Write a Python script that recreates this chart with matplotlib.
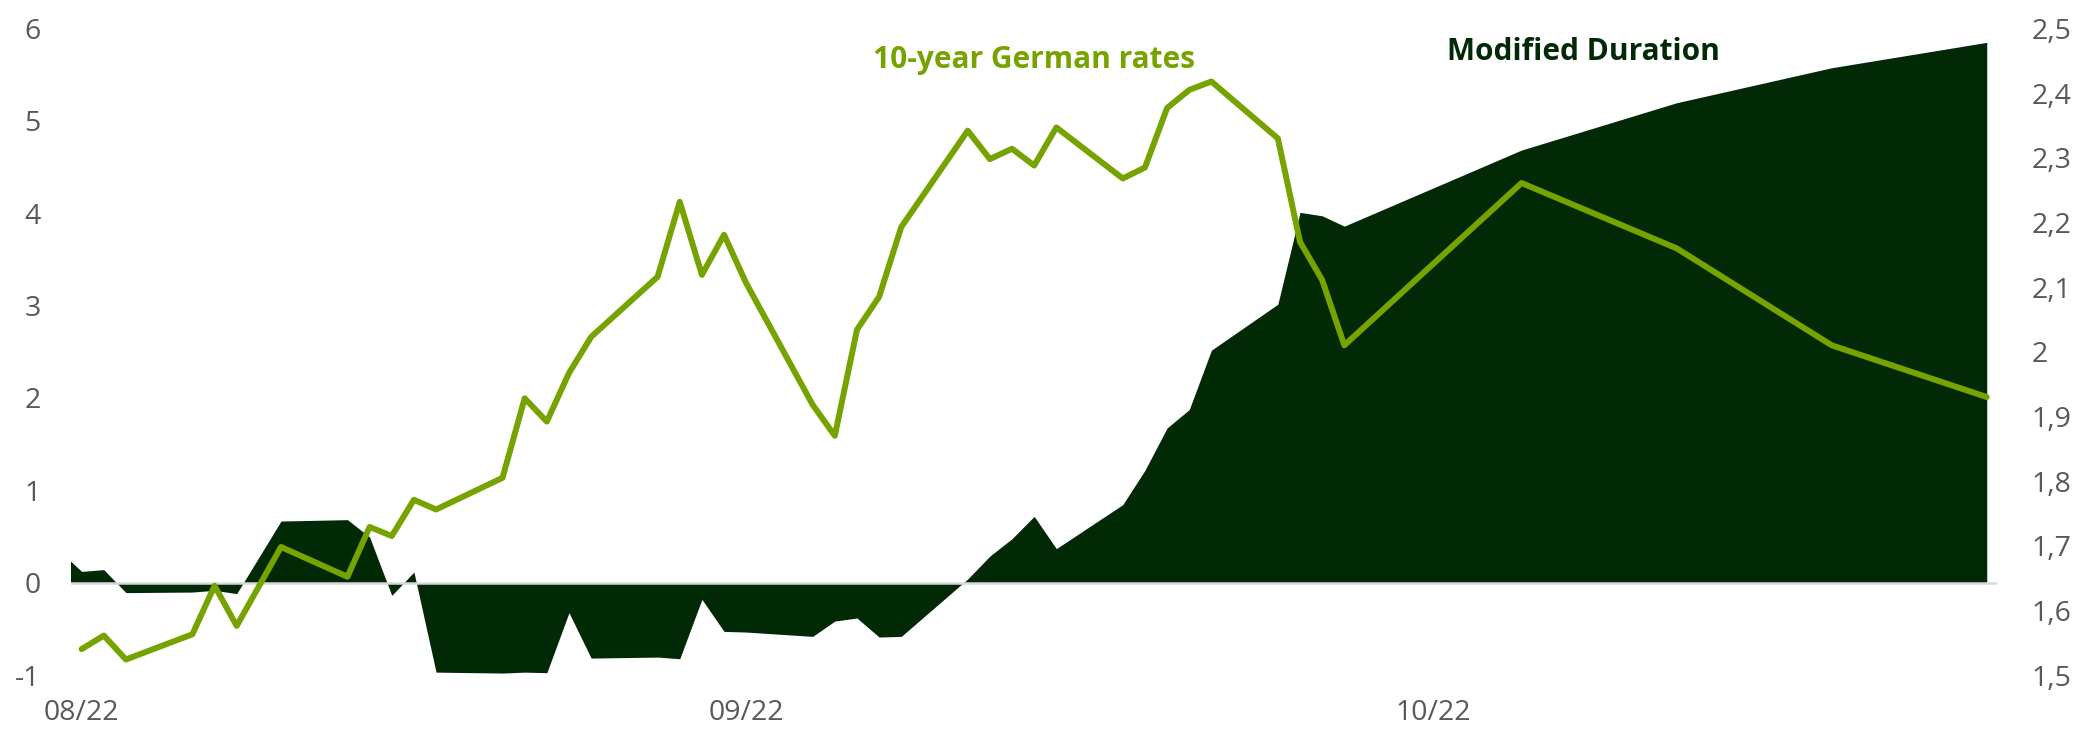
import matplotlib
matplotlib.use("Agg")
import matplotlib.pyplot as plt

plt.rcParams['font.family'] = ['Open Sans', 'DejaVu Sans']

# ---- data (x = calendar-day offset from first observation) ----
duration_days = [-1, 0, 1, 2, 5, 6, 7, 9, 12, 13, 14, 15, 16, 19, 20, 21, 22, 23, 26, 27,
                 28, 29, 30, 33, 34, 35, 36, 37, 40, 41, 42, 43, 44, 47, 48, 49, 50, 51,
                 54, 55, 56, 57, 65, 72, 79, 86]
modified_duration = [0.345, 0.122, 0.141, -0.108, -0.102, -0.083, -0.119, 0.667, 0.682, 0.494,
                     -0.138, 0.115, -0.969, -0.979, -0.969, -0.975, -0.325, -0.817, -0.806, -0.824,
                     -0.181, -0.528, -0.535, -0.582, -0.416, -0.383, -0.589, -0.582, 0.04, 0.288,
                     0.476, 0.718, 0.368, 0.845, 1.217, 1.675, 1.874, 2.517,
                     3.015, 4.009, 3.972, 3.860, 4.684, 5.196, 5.575, 5.850]

rate_days = [0, 1, 2, 5, 6, 7, 9, 12, 13, 14, 15, 16, 19, 20, 21, 22, 23, 26, 27,
             28, 29, 30, 33, 34, 35, 36, 37, 40, 41, 42, 43, 44, 47, 48, 49, 50, 51,
             54, 55, 56, 57, 65, 72, 79, 86]
german_10y = [1.540, 1.561, 1.524, 1.563, 1.638, 1.576, 1.698, 1.652, 1.729, 1.715, 1.771, 1.756,
              1.805, 1.928, 1.892, 1.967, 2.023, 2.116, 2.232, 2.119, 2.181, 2.106, 1.918, 1.870,
              2.034, 2.085, 2.193, 2.342, 2.298, 2.314, 2.288, 2.347, 2.268, 2.285, 2.377, 2.405,
              2.418, 2.330, 2.170, 2.111, 2.010, 2.261, 2.160, 2.010, 1.930]

xtick_days = [0, 30, 61]
xtick_labels = ["08/22", "09/22", "10/22"]
left_ticks = [-1, 0, 1, 2, 3, 4, 5, 6]
right_ticks = [1.5, 1.6, 1.7, 1.8, 1.9, 2.0, 2.1, 2.2, 2.3, 2.4, 2.5]
right_labels = ["1,5", "1,6", "1,7", "1,8", "1,9", "2", "2,1", "2,2", "2,3", "2,4", "2,5"]

DARK = "#022906"
GREEN = "#76A300"
TICK = "#595959"

W, H = 2082, 731
fig = plt.figure(figsize=(W / 100, H / 100), dpi=100)
ax = fig.add_axes([71 / W, 1 - 675 / H, (1996.7 - 71) / W, (675 - 28.5) / H])
ax2 = ax.twinx()

ax.fill_between(duration_days, 0, modified_duration, color=DARK, lw=0, zorder=2)
ax.axhline(0, color="#d9d9d9", lw=1.8, zorder=3)
ax.set_xlim(-0.48, 86.45)
ax.set_ylim(-1, 6)
ax.set_yticks(left_ticks)
ax.set_yticklabels([str(t) for t in left_ticks])
ax.set_xticks(xtick_days)
ax.set_xticklabels(xtick_labels)

ax2.plot(rate_days, german_10y, color=GREEN, lw=4.3, solid_joinstyle='round',
         solid_capstyle='round', zorder=5)
ax2.set_ylim(1.5, 2.5)
ax2.set_yticks(right_ticks)
ax2.set_yticklabels(right_labels)

for a in (ax, ax2):
    for s in a.spines.values():
        s.set_visible(False)
    a.tick_params(length=0, labelsize=20.5, labelcolor=TICK)
ax.tick_params(axis='y', pad=22)
ax.tick_params(axis='x', pad=17)
ax2.tick_params(axis='y', pad=25)

ax.set_zorder(ax2.get_zorder() - 1)
ax2.patch.set_visible(False)

ax.text(43.0, 5.569, "10-year German rates", color=GREEN, fontsize=21.5,
        fontweight='bold', ha='center', va='baseline', zorder=6)
ax.text(67.8, 5.659, "Modified Duration", color=DARK, fontsize=21.5,
        fontweight='bold', ha='center', va='baseline', zorder=6)

fig.savefig("out.png", dpi=100, facecolor="white")
